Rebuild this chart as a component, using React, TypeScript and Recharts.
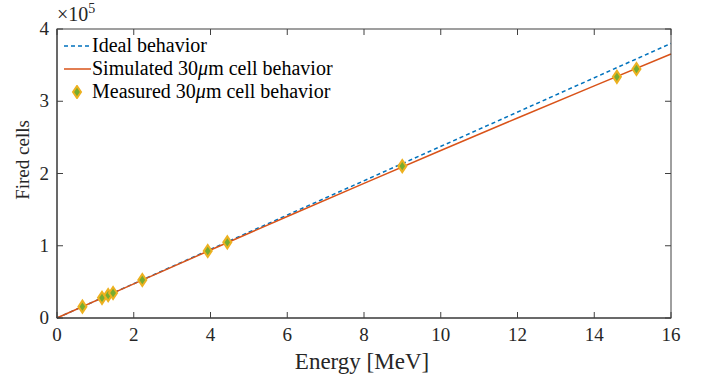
import { ComposedChart, Line, Scatter, XAxis, YAxis } from "recharts";

const xTicks = [0, 2, 4, 6, 8, 10, 12, 14, 16];
const yTicks = [0, 100000, 200000, 300000, 400000];

const ideal = [
  { x: 0, y: 0 },
  { x: 16, y: 380000 },
];

const simEnergy = [0, 2, 4, 6, 8, 10, 12, 14, 16];
const simCells = [0, 47300, 94100, 140400, 186300, 231800, 276800, 321300, 365400];
const simulated = simEnergy.map((x, i) => ({ x, y: simCells[i] }));

const measEnergy = [0.662, 1.173, 1.333, 1.461, 2.223, 3.928, 4.438, 8.997, 14.59, 15.1];
const measCells = [15700, 27900, 31700, 34600, 52600, 92700, 104700, 210200, 333800, 344700];
const measured = measEnergy.map((x, i) => ({ x, y: measCells[i] }));

const FONT = "'Liberation Serif', serif";
const AX = "#262626";

// layout
const W = 709;
const H = 377;
const M = { top: 29, right: 38, bottom: 0, left: 0 };
const Y_AXIS_W = 57;
const X_AXIS_H = 59;
const PLOT_W = W - M.left - M.right - Y_AXIS_W;
const PLOT_H = H - M.top - M.bottom - X_AXIS_H;

// bottom tick + mirrored tick on the top edge of the box
const BottomTick = (p: any) => (
  <g>
    <path d={`M${p.x},${p.y}v-6M${p.x},${p.y - PLOT_H}v6`} stroke="#404040" strokeWidth={1} fill="none" />
    <text x={p.x} y={p.y + 23} textAnchor="middle" fontSize={19} fontFamily={FONT} fill={AX}>
      {p.payload.value}
    </text>
  </g>
);

// left tick + mirrored tick on the right edge of the box
const LeftTick = (p: any) => (
  <g>
    <path d={`M${p.x},${p.y}h6M${p.x + PLOT_W},${p.y}h-6`} stroke="#404040" strokeWidth={1} fill="none" />
    <text x={p.x - 8} y={p.y + 6} textAnchor="end" fontSize={19} fontFamily={FONT} fill={AX}>
      {p.payload.value / 100000}
    </text>
  </g>
);

const Diamond = (p: any) => (
  <polygon
    points={`${p.cx},${p.cy - 6} ${p.cx + 4},${p.cy} ${p.cx},${p.cy + 6} ${p.cx - 4},${p.cy}`}
    fill="#77AC30"
    stroke="#EDB120"
    strokeWidth={2}
  />
);

const LegendBox = () => (
  <div
    style={{
      position: "absolute",
      left: 62,
      top: 34,
      fontFamily: FONT,
      fontSize: 20,
      color: "#000",
      lineHeight: "23px",
    }}
  >
    <div style={{ display: "flex", alignItems: "center" }}>
      <svg width={30} height={10}>
        <line x1={2} y1={5} x2={29} y2={5} stroke="#0072BD" strokeWidth={1.5} strokeDasharray="4 3" />
      </svg>
      <span>Ideal behavior</span>
    </div>
    <div style={{ display: "flex", alignItems: "center" }}>
      <svg width={30} height={10}>
        <line x1={2} y1={5} x2={29} y2={5} stroke="#D95319" strokeWidth={1.5} />
      </svg>
      <span>Simulated 30<i>μ</i>m cell behavior</span>
    </div>
    <div style={{ display: "flex", alignItems: "center" }}>
      <svg width={30} height={14}>
        <polygon points="15,1 19,7 15,13 11,7" fill="#77AC30" stroke="#EDB120" strokeWidth={2} />
      </svg>
      <span>Measured 30<i>μ</i>m cell behavior</span>
    </div>
  </div>
);

// box frame, exponent and axis titles drawn over the chart
const Overlay = () => (
  <svg
    width={W}
    height={H}
    style={{ position: "absolute", left: 0, top: 0, pointerEvents: "none" }}
  >
    <rect
      x={M.left + Y_AXIS_W}
      y={M.top}
      width={PLOT_W}
      height={PLOT_H}
      fill="none"
      stroke="#404040"
      strokeWidth={1}
    />
    <g fontFamily={FONT} fill={AX}>
      <text x={57} y={21} fontSize={20}>
        ×10<tspan dy={-8} fontSize={14}>5</tspan>
      </text>
      <text x={362} y={369} textAnchor="middle" fontSize={23}>
        Energy [MeV]
      </text>
      <text x={29} y={160} textAnchor="middle" fontSize={19} transform="rotate(-90 29 160)">
        Fired cells
      </text>
    </g>
  </svg>
);

export default function App() {
  return (
    <div style={{ position: "absolute", left: 0, top: 0, width: W, height: H, background: "#fff" }}>
      <ComposedChart width={W} height={H} margin={M}>
        <XAxis
          dataKey="x"
          type="number"
          domain={[0, 16]}
          ticks={xTicks}
          height={X_AXIS_H}
          tickLine={false}
          tickSize={0}
          tickMargin={0}
          stroke={AX}
          tick={<BottomTick />}
        />
        <YAxis
          type="number"
          domain={[0, 400000]}
          ticks={yTicks}
          width={Y_AXIS_W}
          tickLine={false}
          tickSize={0}
          tickMargin={0}
          stroke={AX}
          tick={<LeftTick />}
        />
        <Line
          data={ideal}
          dataKey="y"
          stroke="#0072BD"
          strokeWidth={1.5}
          strokeDasharray="4 3"
          dot={false}
          isAnimationActive={false}
        />
        <Line
          data={simulated}
          dataKey="y"
          type="monotone"
          stroke="#D95319"
          strokeWidth={1.5}
          dot={false}
          isAnimationActive={false}
        />
        <Scatter data={measured} dataKey="y" shape={<Diamond />} isAnimationActive={false} />
      </ComposedChart>
      <Overlay />
      <LegendBox />
    </div>
  );
}
